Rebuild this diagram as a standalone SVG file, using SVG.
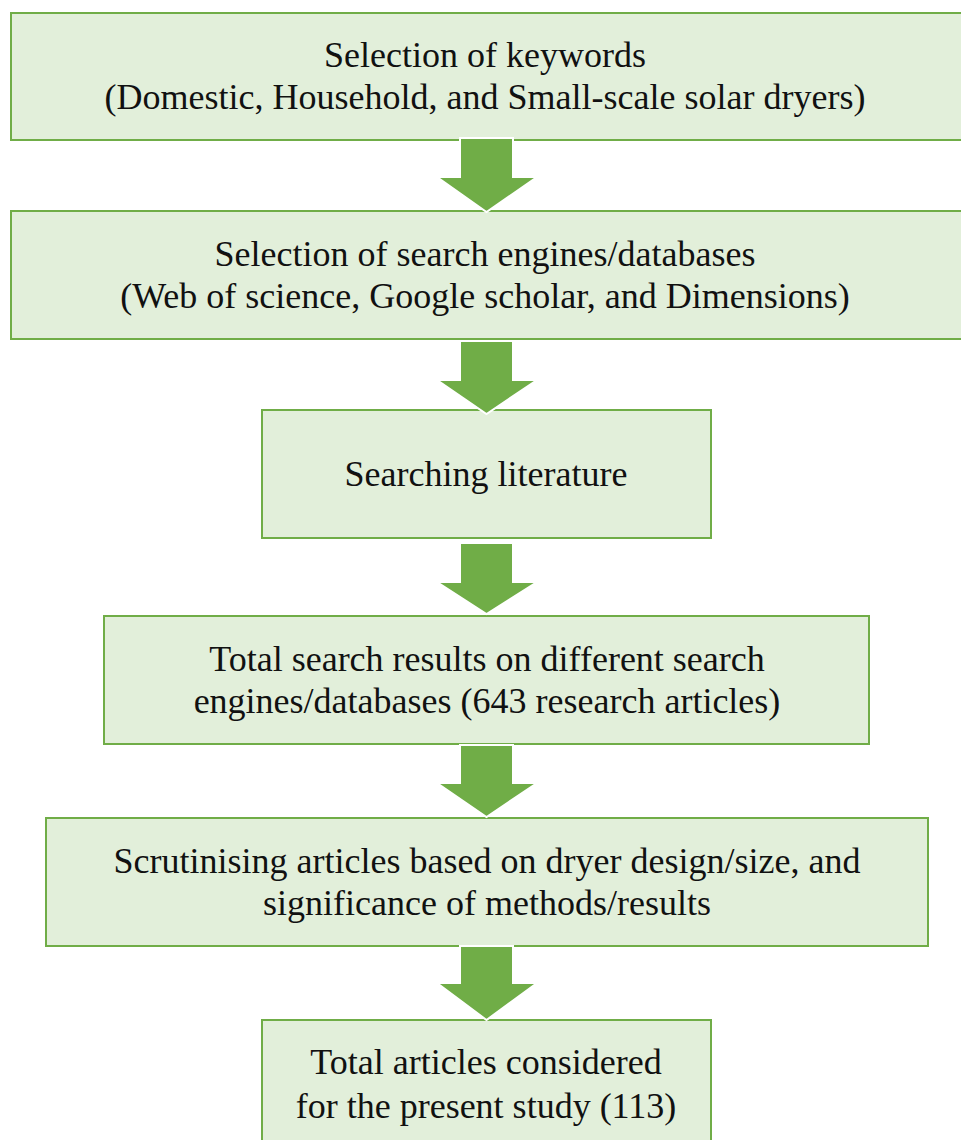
<svg xmlns="http://www.w3.org/2000/svg" width="961" height="1140" viewBox="0 0 961 1140">
<style>
.box{fill:#E2EFDA;stroke:#70AD47;stroke-width:2}
.t{font-family:"Liberation Serif","Times New Roman",serif;font-size:36px;fill:#111;text-anchor:middle}
.arr{fill:#70AD47;stroke:#FFFFFF;stroke-width:2;stroke-linejoin:miter}
</style>
<rect x="0" y="0" width="961" height="1140" fill="#FFFFFF"/>
<g id="node1"><rect class="box" x="11" y="13" width="960" height="127"/>
<text class="t" x="485" y="67">Selection of keywords</text>
<text class="t" x="485" y="109">(Domestic, Household, and Small-scale solar dryers)</text></g>
<g id="node2"><rect class="box" x="11" y="211" width="960" height="128"/>
<text class="t" x="485" y="266">Selection of search engines/databases</text>
<text class="t" x="485" y="308">(Web of science, Google scholar, and Dimensions)</text></g>
<g id="node3"><rect class="box" x="262" y="410" width="449" height="128"/>
<text class="t" x="486" y="486">Searching literature</text></g>
<g id="node4"><rect class="box" x="104" y="616" width="765" height="128"/>
<text class="t" x="487" y="671">Total search results on different search</text>
<text class="t" x="487" y="713">engines/databases (643 research articles)</text></g>
<g id="node5"><rect class="box" x="46" y="818" width="882" height="128"/>
<text class="t" x="487" y="873">Scrutinising articles based on dryer design/size, and</text>
<text class="t" x="487" y="915">significance of methods/results</text></g>
<g id="node6"><rect class="box" x="262" y="1020" width="449" height="140"/>
<text class="t" x="486" y="1074">Total articles considered</text>
<text class="t" x="486" y="1118">for the present study (113)</text></g>
<g id="connectors">
<polygon class="arr" points="460,138 513,138 513,177 537,177 486.5,212 437,177 460,177"/>
<polygon class="arr" points="460,341 513,341 513,380 537,380 486.5,414 437,380 460,380"/>
<polygon class="arr" points="460,543 513,543 513,582 537,582 486.5,614 437,582 460,582"/>
<polygon class="arr" points="460,745 513,745 513,783 537,783 486.5,817 437,783 460,783"/>
<polygon class="arr" points="460,946 513,946 513,983 537,983 486.5,1020 437,983 460,983"/>
</g>
</svg>
